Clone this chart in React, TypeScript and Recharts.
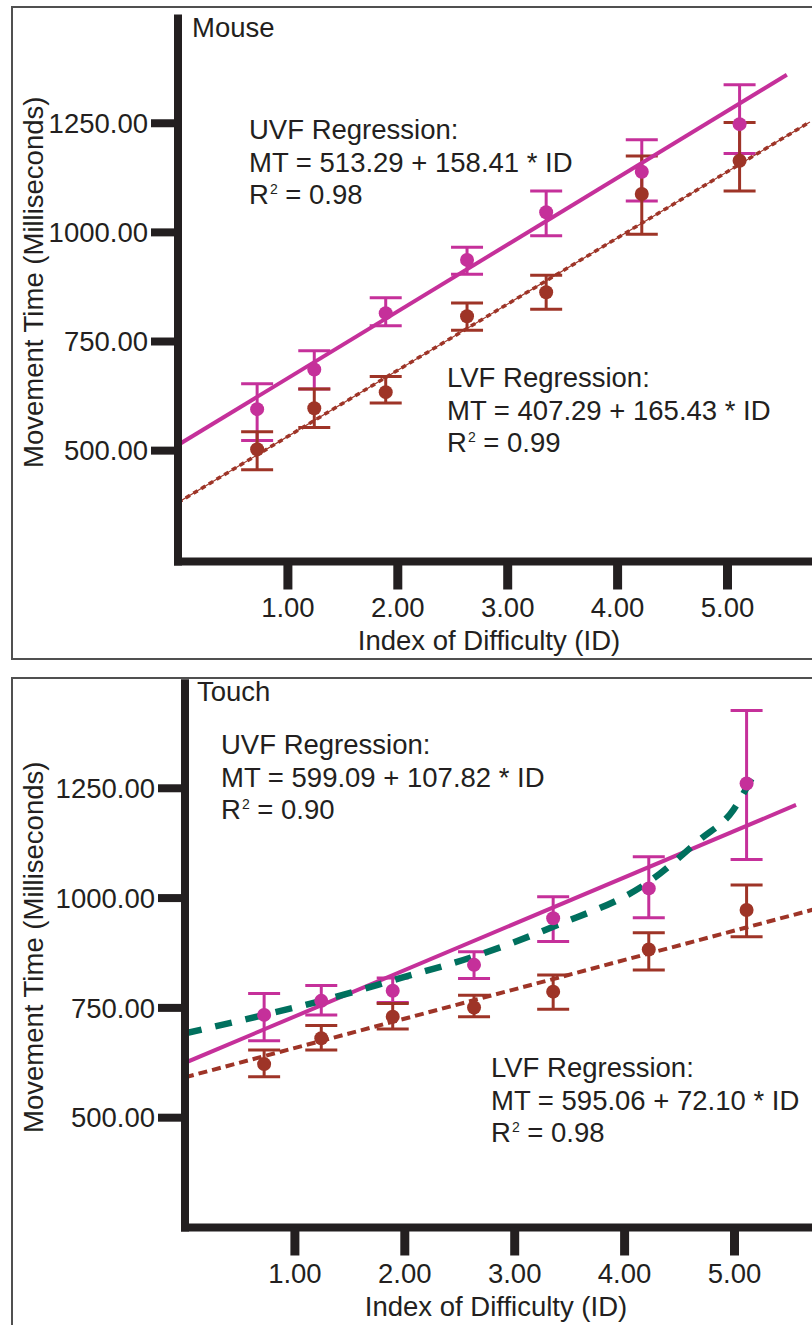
import { ComposedChart, ErrorBar, Line, Scatter, XAxis, YAxis } from "recharts";

const FONT = '"Liberation Sans", Arial, Helvetica, sans-serif';
const INK = "#231F20";
const UVF_COLOR = "#C5309A";
const LVF_COLOR = "#9E3427";
const TREND_COLOR = "#00705E";
const FONT_SIZE = 27.5;

const X_TICKS = [1, 2, 3, 4, 5];
const Y_TICKS = [500, 750, 1000, 1250];

// index of difficulty of the seven conditions
const ID = [0.72, 1.24, 1.89, 2.63, 3.35, 4.22, 5.11];

// Mouse: means and [below, above] error
const MOUSE_UVF_MT = [595, 686, 815, 937, 1046, 1139, 1248];
const MOUSE_UVF_ERR = [[72, 58], [45, 43], [29, 35], [33, 29], [54, 49], [67, 73], [67, 90]];
const MOUSE_LVF_MT = [503, 597, 634, 808, 863, 1088, 1164];
const MOUSE_LVF_ERR = [[47, 40], [44, 44], [25, 36], [32, 30], [39, 39], [92, 87], [69, 88]];

// Touch
const TOUCH_UVF_MT = [734, 766, 789, 848, 954, 1022, 1261];
const TOUCH_UVF_ERR = [[59, 49], [32, 35], [27, 29], [31, 30], [53, 49], [67, 72], [173, 166]];
const TOUCH_LVF_MT = [622, 681, 730, 751, 787, 883, 973];
const TOUCH_LVF_ERR = [[29, 32], [27, 29], [28, 30], [21, 28], [40, 38], [47, 38], [61, 57]];

// regression lines as drawn (end points)
const MOUSE_UVF_FIT_ID = [0, 5.54];
const MOUSE_UVF_FIT_MT = [513, 1361];
const MOUSE_LVF_FIT_ID = [0, 5.75];
const MOUSE_LVF_FIT_MT = [381, 1253];
const TOUCH_UVF_FIT_ID = [0, 5.56];
const TOUCH_UVF_FIT_MT = [625, 1212];
const TOUCH_LVF_FIT_ID = [0, 5.75];
const TOUCH_LVF_FIT_MT = [592, 976];

// curved trend (touch, UVF)
const TOUCH_TREND_ID = [0, 0.72, 1.24, 1.95, 2.63, 3.35, 4.22, 4.68, 4.99, 5.18];
const TOUCH_TREND_MT = [692, 734, 766, 817, 867, 935, 1037, 1132, 1201, 1284];

const MOUSE_NOTES = [
  { label: "UVF Regression:", eq: "MT = 513.29 + 158.41 * ID", r2: "0.98", left: 249, top: 114 },
  { label: "LVF Regression:", eq: "MT = 407.29 + 165.43 * ID", r2: "0.99", left: 447, top: 362 },
];
const TOUCH_NOTES = [
  { label: "UVF Regression:", eq: "MT = 599.09 + 107.82 * ID", r2: "0.90", left: 221, top: 64 },
  { label: "LVF Regression:", eq: "MT = 595.06 + 72.10 * ID", r2: "0.98", left: 491, top: 387 },
];

const points = (mt: number[], err: number[][]) => mt.map((y, i) => ({ x: ID[i], y, err: err[i] }));
const series = (ids: number[], mt: number[]) => ids.map((x, i) => ({ x, y: mt[i] }));

const dot = (color: string) => (p: any) => <circle cx={p.cx} cy={p.cy} r={7} fill={color} />;

const textStyle: React.CSSProperties = {
  position: "absolute",
  fontFamily: FONT,
  fontSize: FONT_SIZE,
  lineHeight: "32.5px",
  color: INK,
  whiteSpace: "nowrap",
};

function Note({ label, eq, r2, left, top }: any) {
  return (
    <div style={{ ...textStyle, left, top }}>
      <div>{label}</div>
      <div>{eq}</div>
      <div>
        R<span style={{ fontSize: 14, position: "relative", top: -10, marginLeft: 1 }}>2</span> = {r2}
      </div>
    </div>
  );
}

function Panel(props: any) {
  const { top, boxTop, boxHeight, title, titleLeft, axisLeft, plotTop, plotBottom, yDomain, uvf, lvf, uvfFit, lvfFit, trend, notes, thinLvf } = props;
  const W = 850;
  const H = 660;
  const plotWidth = 659.4;
  const axisLine = { stroke: INK, strokeWidth: 8, strokeLinecap: "square" as const };
  const tick = { fontSize: FONT_SIZE, fill: INK, fontFamily: FONT };
  return (
    <div style={{ position: "absolute", left: 0, top, width: 812, height: H }}>
      <div
        style={{
          position: "absolute",
          left: 11,
          top: boxTop,
          width: 840,
          height: boxHeight,
          border: "2px solid #505050",
          boxSizing: "border-box",
        }}
      />
      <div style={{ position: "absolute", left: 0, top: 0 }}>
        <ComposedChart
          width={W}
          height={H}
          margin={{ top: plotTop, right: W - axisLeft - plotWidth, bottom: H - 60 - plotBottom, left: 0 }}
        >
          <XAxis
            type="number"
            dataKey="x"
            domain={[0, 6]}
            ticks={X_TICKS}
            interval={0}
            allowDataOverflow
            height={60}
            tickFormatter={(v: number) => v.toFixed(2)}
            axisLine={axisLine}
            tickLine={{ stroke: INK, strokeWidth: 9 }}
            tickSize={28}
            tickMargin={8}
            tick={tick}
          />
          <YAxis
            type="number"
            dataKey="y"
            domain={yDomain}
            ticks={Y_TICKS}
            interval={0}
            allowDataOverflow
            width={axisLeft}
            tickFormatter={(v: number) => v.toFixed(2)}
            axisLine={axisLine}
            tickLine={{ stroke: INK, strokeWidth: 8 }}
            tickSize={27}
            tickMargin={3}
            tick={tick}
          />
          <Scatter data={uvf} fill={UVF_COLOR} shape={dot(UVF_COLOR)} isAnimationActive={false}>
            <ErrorBar dataKey="err" direction="y" width={16} strokeWidth={3} stroke={UVF_COLOR} />
          </Scatter>
          <Scatter data={lvf} fill={LVF_COLOR} shape={dot(LVF_COLOR)} isAnimationActive={false}>
            <ErrorBar dataKey="err" direction="y" width={16} strokeWidth={3} stroke={LVF_COLOR} />
          </Scatter>
          <Line data={uvfFit} dataKey="y" type="linear" stroke={UVF_COLOR} strokeWidth={4} dot={false} isAnimationActive={false} />
          {thinLvf && (
            <Line data={lvfFit} dataKey="y" type="linear" stroke={LVF_COLOR} strokeWidth={1.2} dot={false} isAnimationActive={false} />
          )}
          <Line
            data={lvfFit}
            dataKey="y"
            type="linear"
            stroke={LVF_COLOR}
            strokeWidth={thinLvf ? 3.5 : 4}
            strokeDasharray={thinLvf ? "5 4" : "9 5"}
            dot={false}
            isAnimationActive={false}
          />
          {trend && (
            <Line
              data={trend}
              dataKey="y"
              type="monotone"
              stroke={TREND_COLOR}
              strokeWidth={6.5}
              strokeDasharray="17 14"
              dot={false}
              isAnimationActive={false}
            />
          )}
        </ComposedChart>
      </div>
      <div style={{ ...textStyle, left: titleLeft, top: plotTop - 7 }}>{title}</div>
      <div
        style={{
          ...textStyle,
          left: 34 - 250,
          top: (plotTop + plotBottom) / 2 - 8 - 16,
          width: 500,
          textAlign: "center",
          transform: "rotate(-90deg)",
        }}
      >
        Movement Time (Milliseconds)
      </div>
      <div style={{ ...textStyle, left: axisLeft + 311 - 300, top: plotBottom + 63, width: 600, textAlign: "center" }}>
        Index of Difficulty (ID)
      </div>
      {notes.map((n: any) => (
        <Note key={n.label} {...n} />
      ))}
    </div>
  );
}

export default function App() {
  return (
    <div style={{ position: "relative", width: 812, height: 1325, overflow: "hidden", background: "#fff" }}>
      <style>{"body{margin:0;overflow:hidden}"}</style>
      <Panel
        top={0}
        boxTop={6}
        boxHeight={654}
        title="Mouse"
        titleLeft={192}
        axisLeft={178}
        plotTop={18.5}
        plotBottom={561.5}
        yDomain={[246, 1490]}
        uvf={points(MOUSE_UVF_MT, MOUSE_UVF_ERR)}
        lvf={points(MOUSE_LVF_MT, MOUSE_LVF_ERR)}
        uvfFit={series(MOUSE_UVF_FIT_ID, MOUSE_UVF_FIT_MT)}
        lvfFit={series(MOUSE_LVF_FIT_ID, MOUSE_LVF_FIT_MT)}
        notes={MOUSE_NOTES}
        thinLvf
      />
      <Panel
        top={665}
        boxTop={12}
        boxHeight={700}
        title="Touch"
        titleLeft={197}
        axisLeft={185}
        plotTop={18.3}
        plotBottom={562.5}
        yDomain={[250, 1489]}
        uvf={points(TOUCH_UVF_MT, TOUCH_UVF_ERR)}
        lvf={points(TOUCH_LVF_MT, TOUCH_LVF_ERR)}
        uvfFit={series(TOUCH_UVF_FIT_ID, TOUCH_UVF_FIT_MT)}
        lvfFit={series(TOUCH_LVF_FIT_ID, TOUCH_LVF_FIT_MT)}
        trend={series(TOUCH_TREND_ID, TOUCH_TREND_MT)}
        notes={TOUCH_NOTES}
      />
    </div>
  );
}
